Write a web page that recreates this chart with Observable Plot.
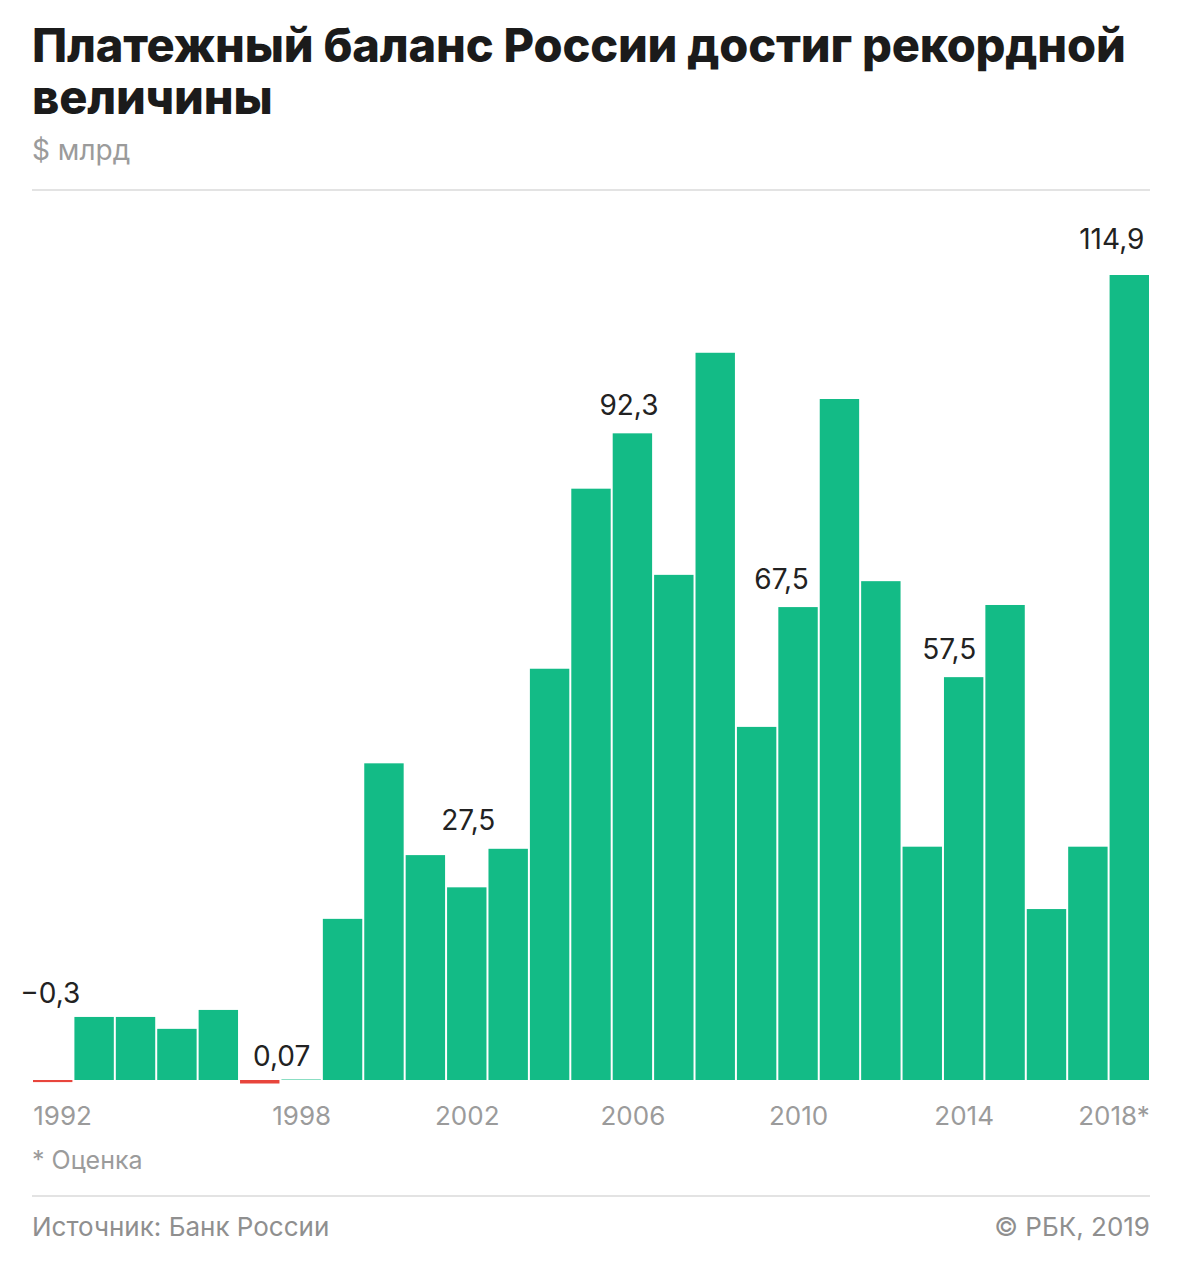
<!DOCTYPE html>
<html><head><meta charset="utf-8">
<script src="https://cdn.jsdelivr.net/npm/d3@7"></script>
<script src="https://cdn.jsdelivr.net/npm/@observablehq/plot@0.6"></script>
<style>
body{margin:0;background:#fff;font-family:Inter,"Noto Sans",sans-serif;}
#wrap{position:relative;width:1180px;height:1266px;}
.title{position:absolute;left:32px;top:19px;width:1140px;font-weight:800;font-size:47px;line-height:52px;color:#1b1b1b;letter-spacing:-0.2px;}
.sub{position:absolute;left:32px;top:133px;font-size:28px;color:#9b9b9b;}
.rule{position:absolute;left:32px;width:1118px;height:2px;background:#e3e3e3;}
.note{position:absolute;left:32px;top:1145px;font-size:25px;color:#9b9b9b;}
.src{position:absolute;left:32px;top:1211px;font-size:26px;color:#8f8f8f;}
.copy{position:absolute;right:30px;top:1211px;font-size:26px;color:#8f8f8f;}
#chart{position:absolute;left:0;top:192px;}
</style></head><body>
<div id="wrap">
<div class="title">Платежный баланс России достиг рекордной величины</div>
<div class="sub">$ млрд</div>
<div class="rule" style="top:189px"></div>
<div id="chart"></div>
<div class="note">* Оценка</div>
<div class="rule" style="top:1195px"></div>
<div class="src">Источник: Банк России</div>
<div class="copy">© РБК, 2019</div>
</div>
<script>
const years = ["1992","1993","1994","1995","1996","1997","1998","1999","2000","2001","2002","2003","2004","2005","2006","2007","2008","2009","2010","2011","2012","2013","2014","2015","2016","2017","2018"];
const values = [-0.3,9.0,9.0,7.3,10.0,-0.5,0.07,23.0,45.2,32.1,27.5,33.0,58.7,84.4,92.3,72.1,103.8,50.4,67.5,97.2,71.2,33.3,57.5,67.8,24.4,33.3,114.9];
const labelYears = ["1992","1998","2002","2006","2010","2014","2018"];
const labelTexts = ["−0,3","0,07","27,5","92,3","67,5","57,5","114,9"];
const tickYears = ["1992","1998","2002","2006","2010","2014","2018"];
const tickTexts = ["1992","1998","2002","2006","2010","2014","2018*"];

const data = years.map((y,i)=>({year:y, value:values[i]}));
const tickLabel = Object.fromEntries(tickYears.map((y,i)=>[y,tickTexts[i]]));
const labels = labelYears.map((y,i)=>({year:y, text:labelTexts[i], value:values[years.indexOf(y)]}));
// label placement (style only)
const place = {"1992":{dx:-3,top:8.4},"1998":{dx:-20,top:-0.7},"2002":{dx:1,top:33.0},"2006":{dx:-4,top:92.3},"2010":{dx:-17,top:67.5},"2014":{dx:-15,top:57.5},"2018":{dx:-18,top:115.9}};
labels.forEach(d=>{d.ly=place[d.year].top;});

const GREEN="#13bb86", RED="#e8453c";
const plot = Plot.plot({
  width:1180, height:943,
  marginLeft:32, marginRight:30, marginTop:83, marginBottom:55,
  x:{domain:years, padding:0, round:false},
  y:{domain:[0,114.9], range:[888,83]},
  style:{fontFamily:"Inter, 'Noto Sans', sans-serif"},
  marks:[
    Plot.barY(data,{x:"year", y:"value", insetLeft:1, insetRight:1, fill:d=>d.value<0?RED:GREEN}),
    Plot.axisX(tickYears.slice(0,1),{tickSize:0, tickPadding:0, dy:26, dx:-20, textAnchor:"start", fontSize:26, fill:"#9b9b9b", tickFormat:d=>tickLabel[d], label:null}),
    Plot.axisX(tickYears.slice(1,-1),{tickSize:0, tickPadding:0, dy:26, fontSize:26, fill:"#9b9b9b", tickFormat:d=>tickLabel[d], label:null}),
    Plot.axisX(tickYears.slice(-1),{tickSize:0, tickPadding:0, dy:26, dx:20, textAnchor:"end", fontSize:26, fill:"#9b9b9b", tickFormat:d=>tickLabel[d], label:null}),
    Plot.axisY({ticks:[]}),
    ...labels.map(d=>Plot.text([d],{x:"year", y:"ly", text:"text", dx:place[d.year].dx, dy:-28, fontSize:28, fill:"#222"}))
  ]
});
document.getElementById("chart").appendChild(plot);
</script>
</body></html>
